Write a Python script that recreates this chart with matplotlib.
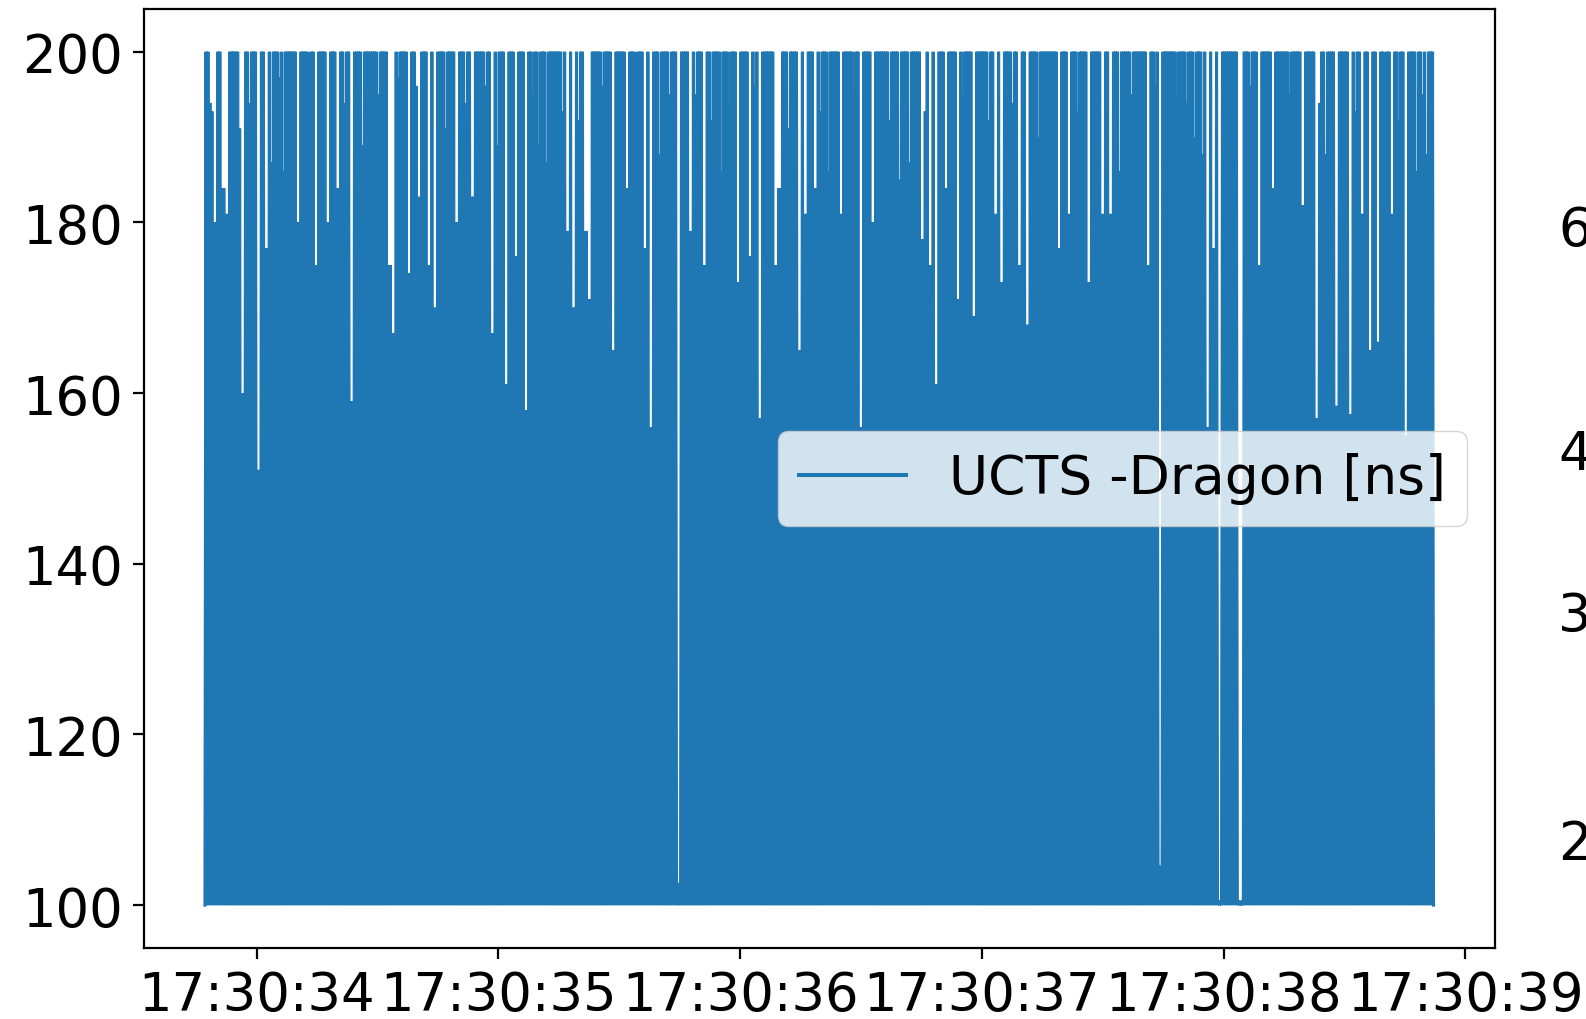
import numpy as np
import pandas as pd
import matplotlib
matplotlib.use("Agg")
import matplotlib.pyplot as plt
import matplotlib.dates as mdates

plt.rcParams["path.simplify"] = False
plt.rcParams["agg.path.chunksize"] = 0

# ---------------- data ----------------
base_time = "2019-10-10 17:30:00"     # date not shown; only H:M:S is displayed
t_start_s = 33.790                     # first sample, seconds after 17:30:00
t_end_s = 38.864                       # last sample
n_peaks = 620                          # oscillation cycles resolved across the trace
y_low = 100.0                          # lower envelope [ns]
y_high = 200.0                         # upper envelope [ns]

# places where the upper envelope does not reach 200 ns (seconds after 17:30:00, value)
dip_seconds = [
    33.808, 33.815, 33.823, 33.856, 33.876, 33.926, 33.938, 33.967, 34.000, 34.037,
    34.058, 34.091, 34.111, 34.165, 34.214, 34.243, 34.288, 34.329, 34.367, 34.391,
    34.441, 34.502, 34.544, 34.564, 34.585, 34.626, 34.655, 34.667, 34.708, 34.729,
    34.778, 34.820, 34.861, 34.885, 34.943, 34.968, 34.997, 35.026, 35.067, 35.108,
    35.141, 35.170, 35.203, 35.264, 35.285, 35.306, 35.334, 35.355, 35.376, 35.429,
    35.470, 35.524, 35.565, 35.602, 35.627, 35.664, 35.705, 35.738, 35.787, 35.812,
    35.849, 35.882, 35.923, 35.952, 35.985, 36.035, 36.059, 36.076, 36.142, 36.162,
    36.199, 36.241, 36.265, 36.306, 36.335, 36.364, 36.409, 36.418, 36.467, 36.492,
    36.541, 36.615, 36.657, 36.698, 36.747, 36.768, 36.780, 36.809, 36.850, 36.899,
    36.920, 36.965, 37.027, 37.056, 37.077, 37.126, 37.151, 37.180, 37.233, 37.315,
    37.353, 37.398, 37.439, 37.497, 37.530, 37.571, 37.620, 37.682, 37.715, 37.736,
    37.806, 37.847, 37.880, 37.913, 37.933, 37.954, 37.979, 38.057, 38.065, 38.106,
    38.139, 38.201, 38.271, 38.320, 38.382, 38.395, 38.423, 38.465, 38.518, 38.547,
    38.572, 38.600, 38.633, 38.670, 38.695, 38.724, 38.753, 38.798, 38.819, 38.839,
]
dip_values = [
    194, 193, 180, 184, 181, 191, 160, 194, 151, 177,
    187, 197, 186, 180, 195, 175, 180, 184, 194, 159,
    189, 195, 175, 167, 197, 174, 196, 183, 175, 170,
    191, 180, 194, 183, 196, 167, 189, 161, 176, 158,
    195, 189, 187, 193, 179, 170, 192, 179, 171, 196,
    165, 184, 194, 177, 156, 188, 195, 102.6, 179, 195,
    175, 192, 186, 194, 173, 176, 196, 157, 175, 184,
    191, 165, 181, 184, 193, 186, 181, 195, 195, 156,
    180, 192, 185, 187, 178, 193, 175, 161, 184, 171,
    195, 169, 192, 181, 173, 194, 175, 168, 190, 177,
    181, 193, 173, 181, 181, 186, 195, 175, 196, 104.6,
    195, 194, 190, 188, 156, 177, 100.5, 100.5, 100.5, 196,
    175, 184, 195, 182, 157, 194, 188, 158.5, 157.5, 193,
    181, 165, 166, 194, 181, 192, 155, 186, 195, 188,
]

y_tick_values = [100, 120, 140, 160, 180, 200]
side_labels = ["6", "4", "3", "2"]     # cut-off tick labels of the neighbouring panel
legend_label = "UCTS -Dragon [ns]"

# ---------------- build the trace ----------------
peak_s = np.linspace(t_start_s, t_end_s, n_peaks)
dt = peak_s[1] - peak_s[0]
peak_y = np.full(n_peaks, y_high)
for s, v in zip(dip_seconds, dip_values):
    i = int(np.argmin(np.abs(peak_s - s)))
    span = 2 if v < 185 else 1          # deeper dips are visibly wider
    for k in range(span):
        j = min(i + k, n_peaks - 1)
        peak_y[j] = min(peak_y[j], v)
valley_s = peak_s - dt / 2
sec = np.ravel(np.column_stack([valley_s, peak_s]))
sec = np.append(sec, t_end_s + dt / 2)
vals = np.ravel(np.column_stack([np.full(n_peaks, y_low), peak_y]))
vals = np.append(vals, y_low)
times = (pd.Timestamp(base_time) + pd.to_timedelta(sec, unit="s")).to_numpy()

# ---------------- figure ----------------
FS = 38
fig = plt.figure(figsize=(15.86, 10.2), dpi=100)
ax = fig.add_axes([0.0905, 0.0698, 0.8521, 0.9203])
line, = ax.plot(times, vals, color="#1f77b4", lw=2.2, label=legend_label,
                solid_joinstyle="miter")

ax.xaxis.set_major_locator(mdates.SecondLocator(interval=1))
ax.xaxis.set_major_formatter(mdates.DateFormatter("%H:%M:%S"))
ax.set_yticks(y_tick_values)
ax.set_ylim(95, 205)
ax.tick_params(axis="both", labelsize=FS, length=8, width=1.6, pad=7)
for sp in ax.spines.values():
    sp.set_linewidth(1.6)

leg = ax.legend(loc="center right", fontsize=38.5, borderaxespad=0.52)
for h in leg.get_lines():
    h.set_linewidth(2.9)

ys = [231, 455, 617, 845]
for lab, y in zip(side_labels, ys):
    fig.text(1558 / 1586, 1 - y / 1020, lab, fontsize=FS, ha="left", va="center")

fig.savefig("out.png", dpi=100)
